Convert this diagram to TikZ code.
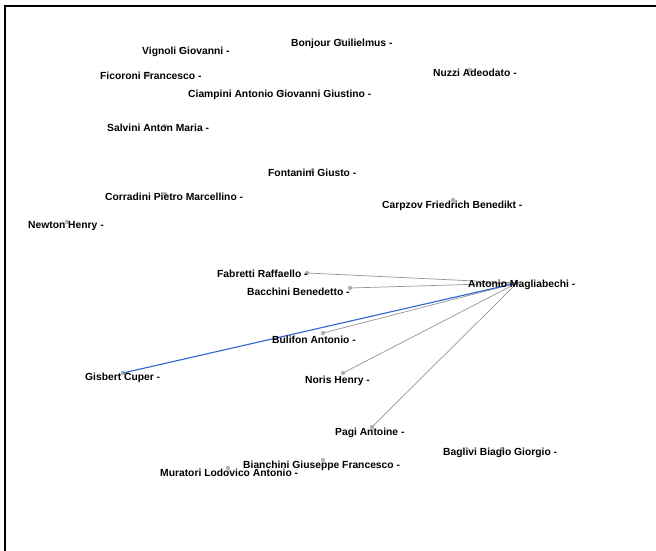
\documentclass[tikz,border=0pt]{standalone}
\usepackage{fontspec}
\setmainfont{Liberation Sans}
\definecolor{edgeblue}{RGB}{45,100,205}
\definecolor{edgegray}{RGB}{150,150,150}
\definecolor{dotgray}{RGB}{180,180,180}
\begin{document}
\begin{tikzpicture}[x=1pt,y=-1pt,
  lbl/.style={anchor=base west, inner sep=0pt, font=\fontsize{10.3}{12}\selectfont\bfseries, text=black},
  dot/.style={circle, fill=dotgray, inner sep=0pt, minimum size=4.5pt},
  link/.style={draw=edgegray, line width=0.7pt},
  bluelink/.style={draw=edgeblue, line width=1.1pt}]
\useasboundingbox (0,0) rectangle (656,551);
\fill[white] (0,0) rectangle (656,551);
\draw[line width=1.5pt] (5,551) -- (5,6) -- (656,6);
% node dots
\node[dot] (vig) at (181,49) {};
\node[dot] (bon) at (341,41) {};
\node[dot] (fic) at (148,74) {};
\node[dot] (nuz) at (470,70) {};
\node[dot] (cia) at (282,92) {};
\node[dot] (sal) at (165,126) {};
\node[dot] (fon) at (312,171) {};
\node[dot] (cor) at (165,194) {};
\node[dot] (car) at (453,200) {};
\node[dot] (new) at (67,222) {};
\node[dot] (fab) at (307,273) {};
\node[dot] (bac) at (350,288) {};
\node[dot] (mag) at (517,283) {};
\node[dot] (bul) at (323,333) {};
\node[dot] (cup) at (123,373) {};
\node[dot] (nor) at (343,373) {};
\node[dot] (pag) at (372,427) {};
\node[dot] (bag) at (502,449) {};
\node[dot] (bia) at (323,460) {};
\node[dot] (mur) at (228,468) {};
% connectors
\draw[link] (fab.center) -- (mag.center);
\draw[link] (bac.center) -- (mag.center);
\draw[link] (bul.center) -- (mag.center);
\draw[link] (nor.center) -- (mag.center);
\draw[link] (pag.center) -- (mag.center);
\draw[bluelink] (cup.center) -- (mag.center);
% labels
\node[lbl] (vigL) at (142,55) {Vignoli Giovanni -};
\node[lbl] (bonL) at (291,47) {Bonjour Guilielmus -};
\node[lbl] (ficL) at (100,80) {Ficoroni Francesco -};
\node[lbl] (nuzL) at (433,77) {Nuzzi Adeodato -};
\node[lbl] (ciaL) at (188,97) {Ciampini Antonio Giovanni Giustino -};
\node[lbl] (salL) at (107,131) {Salvini Anton Maria -};
\node[lbl] (fonL) at (268,176) {Fontanini Giusto -};
\node[lbl] (corL) at (105,200) {Corradini Pietro Marcellino -};
\node[lbl] (carL) at (382,208) {Carpzov Friedrich Benedikt -};
\node[lbl] (newL) at (28,228) {Newton Henry -};
\node[lbl] (fabL) at (217,277) {Fabretti Raffaello -};
\node[lbl] (bacL) at (247,295) {Bacchini Benedetto -};
\node[lbl] (magL) at (468,287) {Antonio Magliabechi -};
\node[lbl] (bulL) at (272,343) {Bulifon Antonio -};
\node[lbl] (cupL) at (85,380) {Gisbert Cuper -};
\node[lbl] (norL) at (305,383) {Noris Henry -};
\node[lbl] (pagL) at (335,435) {Pagi Antoine -};
\node[lbl] (bagL) at (443,455) {Baglivi Biagio Giorgio -};
\node[lbl] (biaL) at (243,468) {Bianchini Giuseppe Francesco -};
\node[lbl] (murL) at (160,476) {Muratori Lodovico Antonio -};
\end{tikzpicture}
\end{document}
